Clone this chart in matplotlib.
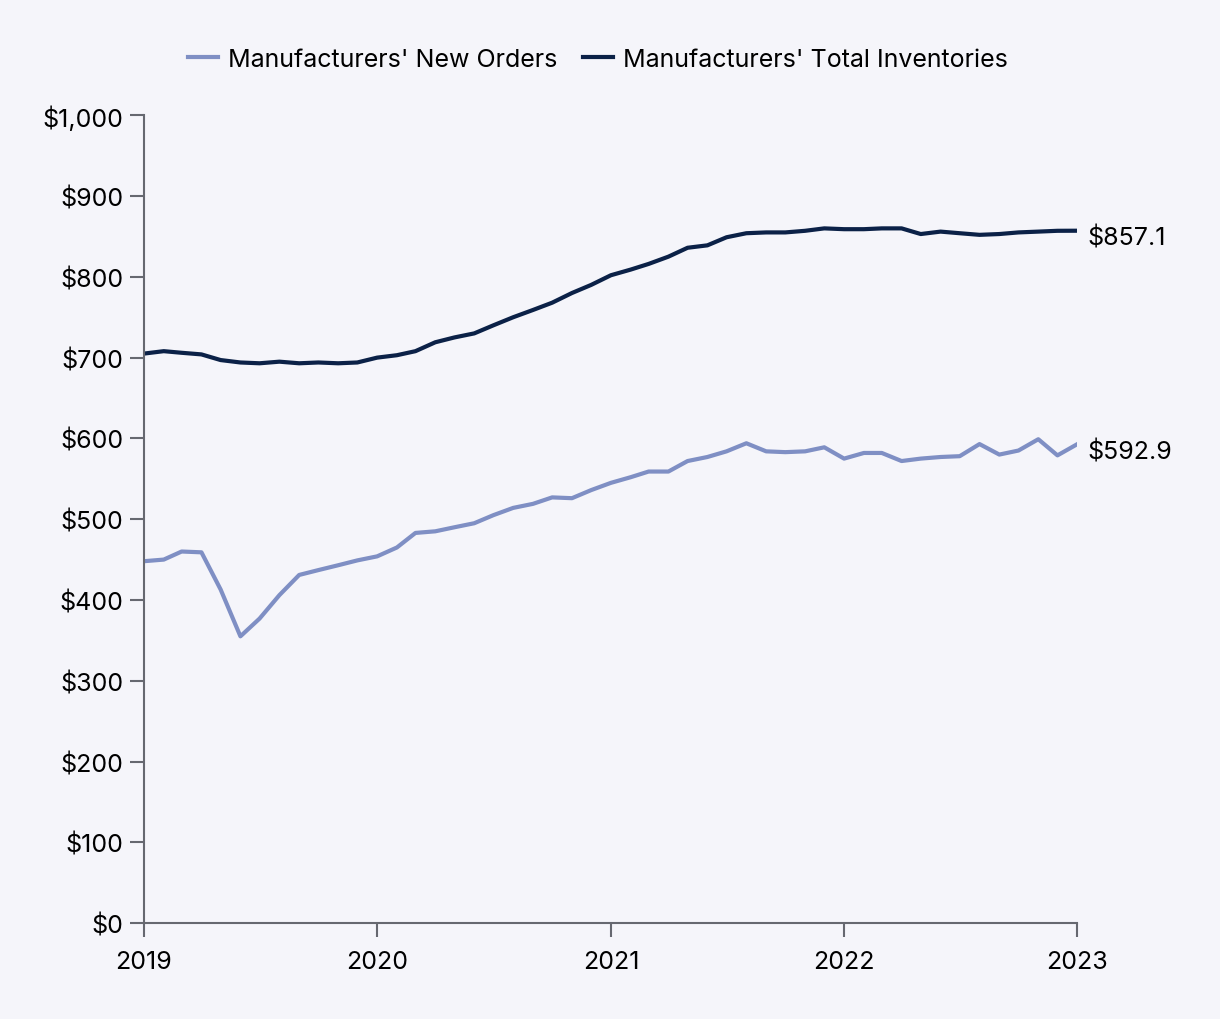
import numpy as np
import pandas as pd
import matplotlib
matplotlib.use("Agg")
import matplotlib.pyplot as plt

plt.rcParams["font.family"] = ["Inter", "DejaVu Sans"]

# monthly values, Jan 2019 - Jan 2023 ($ billions)
dates = pd.date_range("2019-01-01", "2023-01-01", freq="MS")
new_orders = [448, 450, 460, 459, 413, 355, 377, 406, 431, 437, 443, 449,
              454, 465, 483, 485, 490, 495, 505, 514, 519, 527, 526, 536,
              545, 552, 559, 559, 572, 577, 584, 594, 584, 583, 584, 589,
              575, 582, 582, 572, 575, 577, 578, 593, 580, 585, 599, 579,
              592.9]
inventories = [705, 708, 706, 704, 697, 694, 693, 695, 693, 694, 693, 694,
               700, 703, 708, 719, 725, 730, 740, 750, 759, 768, 780, 790,
               802, 809, 816, 825, 836, 839, 849, 854, 855, 855, 857, 860,
               859, 859, 860, 860, 853, 856, 854, 852, 853, 855, 856, 857,
               857.1]
year_ticks = ["2019", "2020", "2021", "2022", "2023"]

bg = "#f5f5fa"
light = "#7f8fc4"
dark = "#0b2147"
axis_col = "#666870"

fig = plt.figure(figsize=(12.2, 10.2), dpi=100, facecolor=bg)
ax = fig.add_axes([0.118, 0.094, 0.765, 0.792], facecolor=bg)

ax.plot(dates, new_orders, color=light, lw=3, label="Manufacturers' New Orders")
ax.plot(dates, inventories, color=dark, lw=3, label="Manufacturers' Total Inventories")

ax.set_ylim(0, 1000)
ax.set_yticks(np.arange(0, 1001, 100))
ax.set_yticklabels(["${:,}".format(v) for v in range(0, 1001, 100)])
ax.set_xlim(dates[0], dates[-1])
ax.set_xticks([pd.Timestamp(y + "-01-01") for y in year_ticks])
ax.set_xticklabels(year_ticks)

for s in ["top", "right"]:
    ax.spines[s].set_visible(False)
for s in ["left", "bottom"]:
    ax.spines[s].set_color(axis_col)
    ax.spines[s].set_linewidth(1.5)
ax.tick_params(axis="both", colors=axis_col, width=1.5, length=10,
               labelsize=18, labelcolor="black")
ax.tick_params(axis="y", pad=5)
ax.tick_params(axis="x", pad=9)

# end labels
for series in (inventories, new_orders):
    ax.annotate("${:.1f}".format(series[-1]), (dates[-1], series[-1]),
                xytext=(7, -5), textcoords="offset points", va="center",
                fontsize=18, annotation_clip=False)

fig.legend(loc="center", bbox_to_anchor=(0.49, 0.941), ncol=2, frameon=False,
           fontsize=18, handlelength=1.2, handletextpad=0.4, columnspacing=1.0)

fig.savefig("out.png", facecolor=bg)
